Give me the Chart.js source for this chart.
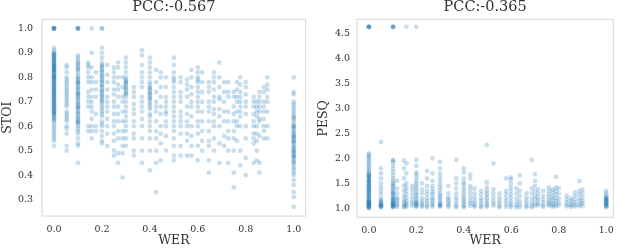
<!DOCTYPE html>
<html>
<head>
<meta charset="utf-8">
<script src="https://cdn.jsdelivr.net/npm/chart.js@4/dist/chart.umd.min.js"></script>
<style>
  html, body { margin: 0; padding: 0; background: #fff; }
  .panel { position: absolute; top: 0; width: 311px; height: 248px; }
</style>
</head>
<body>
<div class="panel" style="left:0"><canvas id="chart-stoi"></canvas></div>
<div class="panel" style="left:311px"><canvas id="chart-pesq"></canvas></div>
<script>
// tick labels
const werTicks  = [0.0, 0.2, 0.4, 0.6, 0.8, 1.0];
const stoiTicks = [0.3, 0.4, 0.5, 0.6, 0.7, 0.8, 0.9, 1.0];
const pesqTicks = [1.0, 1.5, 2.0, 2.5, 3.0, 3.5, 4.0, 4.5];

// WER levels (columns) and STOI values
const stoiWer = [0, 0.053, 0.1, 0.143, 0.157, 0.175, 0.2, 0.222, 0.25, 0.267, 0.286, 0.3,
  0.333, 0.367, 0.4, 0.426, 0.445, 0.467, 0.5, 0.528, 0.555, 0.573, 0.6, 0.618, 0.646,
  0.667, 0.69, 0.71, 0.727, 0.75, 0.763, 0.777, 0.8, 0.833, 0.846, 0.857, 0.875, 0.89, 1.0];
const stoiVals = [
  [1.0,1.0,1.0,1.0,1.0,1.0,0.92,0.91,0.9,0.9,0.895,0.89,0.89,0.885,0.88,0.88,0.875,0.87,0.87,0.865,0.86,0.86,0.855,0.85,0.85,0.85,0.845,0.84,0.84,0.835,0.83,0.83,0.83,0.825,0.82,0.82,0.815,0.81,0.81,0.805,0.8,0.8,0.8,0.795,0.79,0.79,0.785,0.78,0.78,0.775,0.77,0.77,0.765,0.76,0.76,0.755,0.75,0.75,0.745,0.74,0.74,0.735,0.73,0.73,0.725,0.72,0.72,0.715,0.71,0.71,0.705,0.7,0.7,0.695,0.69,0.69,0.685,0.68,0.68,0.675,0.67,0.67,0.665,0.66,0.66,0.655,0.65,0.65,0.645,0.64,0.635,0.63,0.625,0.62,0.61,0.6,0.59,0.58,0.57,0.56,0.55,0.54,0.52],
  [0.85,0.84,0.82,0.8,0.79,0.78,0.77,0.76,0.75,0.74,0.73,0.72,0.71,0.7,0.69,0.68,0.66,0.65,0.64,0.63,0.62,0.6,0.59,0.57,0.52,0.5],
  [1.0,1.0,1.0,1.0,0.89,0.88,0.87,0.86,0.855,0.85,0.84,0.835,0.83,0.82,0.81,0.8,0.795,0.79,0.78,0.78,0.775,0.77,0.76,0.755,0.75,0.74,0.735,0.73,0.73,0.72,0.715,0.71,0.7,0.695,0.69,0.68,0.68,0.675,0.67,0.66,0.655,0.65,0.64,0.635,0.63,0.62,0.62,0.615,0.61,0.6,0.59,0.58,0.57,0.55,0.53,0.52,0.45],
  [0.86,0.85,0.84,0.82,0.8,0.78,0.74,0.72,0.7,0.68,0.6,0.58],
  [1.0,0.9,0.84,0.8,0.78,0.75,0.72,0.7,0.68,0.66,0.63,0.6,0.58,0.55],
  [0.82,0.78,0.75,0.72,0.65,0.6,0.58],
  [1.0,1.0,0.92,0.9,0.88,0.86,0.85,0.845,0.84,0.83,0.825,0.82,0.81,0.805,0.8,0.79,0.785,0.78,0.77,0.765,0.76,0.75,0.745,0.74,0.73,0.725,0.72,0.71,0.705,0.7,0.69,0.68,0.67,0.66,0.65,0.64,0.62,0.61,0.6,0.58,0.56,0.54,0.53],
  [0.85,0.81,0.78,0.75,0.72,0.7,0.68,0.66,0.63,0.6,0.57,0.52],
  [0.84,0.82,0.8,0.78,0.75,0.73,0.7,0.68,0.65,0.62,0.6,0.57,0.54,0.5,0.48],
  [0.86,0.84,0.8,0.77,0.75,0.72,0.68,0.65,0.62,0.58,0.55,0.49,0.45],
  [0.8,0.76,0.72,0.7,0.66,0.62,0.58,0.55,0.52,0.49,0.39],
  [0.88,0.86,0.84,0.82,0.8,0.79,0.785,0.78,0.775,0.77,0.76,0.755,0.75,0.74,0.735,0.73,0.72,0.7,0.68,0.66,0.64,0.62,0.6,0.58,0.55,0.52],
  [0.76,0.74,0.72,0.69,0.67,0.65,0.62,0.6,0.57,0.55,0.5,0.48],
  [0.91,0.89,0.85,0.82,0.8,0.78,0.76,0.72,0.7,0.68,0.66,0.63,0.6,0.55,0.5,0.45],
  [0.88,0.86,0.84,0.82,0.8,0.78,0.77,0.76,0.755,0.75,0.74,0.735,0.73,0.72,0.715,0.71,0.7,0.69,0.68,0.67,0.65,0.64,0.62,0.6,0.58,0.55,0.5,0.42],
  [0.83,0.78,0.74,0.7,0.68,0.66,0.62,0.58,0.55,0.5,0.45,0.33],
  [0.82,0.8,0.76,0.72,0.68,0.65,0.6,0.57,0.53,0.46],
  [0.8,0.76,0.72,0.7,0.68,0.66,0.65,0.62,0.6,0.56,0.5],
  [0.88,0.85,0.82,0.8,0.79,0.78,0.76,0.74,0.72,0.7,0.68,0.66,0.64,0.62,0.6,0.58,0.55,0.52,0.48,0.46],
  [0.8,0.78,0.74,0.72,0.7,0.66,0.64,0.62,0.6,0.57,0.52,0.48],
  [0.79,0.77,0.75,0.72,0.68,0.65,0.62,0.6,0.57,0.54,0.48],
  [0.83,0.8,0.76,0.73,0.7,0.68,0.64,0.6,0.56,0.52,0.48],
  [0.84,0.82,0.8,0.79,0.78,0.76,0.74,0.72,0.7,0.68,0.66,0.62,0.6,0.57,0.52,0.46],
  [0.82,0.78,0.74,0.7,0.66,0.62,0.58,0.54,0.5],
  [0.78,0.76,0.74,0.7,0.68,0.66,0.62,0.58,0.54,0.52,0.46,0.41],
  [0.82,0.8,0.78,0.75,0.72,0.7,0.67,0.65,0.62,0.6,0.55,0.5],
  [0.86,0.8,0.76,0.72,0.71,0.67,0.64,0.6,0.53,0.45],
  [0.78,0.74,0.7,0.66,0.62,0.56,0.52],
  [0.78,0.74,0.72,0.66,0.62,0.58,0.55,0.5,0.45],
  [0.74,0.72,0.68,0.65,0.62,0.58,0.55,0.5,0.41,0.35],
  [0.78,0.75,0.72,0.7,0.66,0.62,0.6,0.54],
  [0.8,0.77,0.74,0.72,0.7,0.68,0.66,0.64,0.6,0.5,0.44],
  [0.78,0.76,0.73,0.7,0.68,0.65,0.6,0.55,0.47,0.4],
  [0.72,0.7,0.68,0.65,0.62,0.6,0.57,0.55,0.53,0.45],
  [0.7,0.68,0.66,0.64,0.6,0.57,0.54,0.5,0.46],
  [0.74,0.72,0.7,0.68,0.66,0.63,0.62,0.56,0.45,0.41],
  [0.76,0.74,0.7,0.68,0.66,0.63,0.6,0.58,0.55],
  [0.8,0.77,0.75,0.72,0.7,0.66,0.6,0.55],
  [0.8,0.74,0.73,0.7,0.69,0.68,0.67,0.66,0.65,0.64,0.635,0.63,0.62,0.61,0.6,0.6,0.595,0.59,0.58,0.575,0.57,0.56,0.56,0.555,0.55,0.54,0.54,0.535,0.53,0.52,0.515,0.51,0.5,0.5,0.495,0.49,0.48,0.48,0.475,0.47,0.46,0.455,0.45,0.44,0.43,0.42,0.41,0.4,0.38,0.36,0.33,0.31,0.27],
];

// WER levels and PESQ values per column
const pesqWer = [0, 0.051, 0.102, 0.119, 0.148, 0.158, 0.183, 0.2, 0.224, 0.245, 0.268, 0.3,
  0.335, 0.368, 0.4, 0.427, 0.445, 0.473, 0.497, 0.525, 0.55, 0.578, 0.598, 0.622, 0.636,
  0.664, 0.686, 0.7, 0.713, 0.734, 0.758, 0.774, 0.788, 0.8, 0.834, 0.852, 0.868, 0.887, 0.9, 1.0];
const pesqVals = [
  [4.64,4.64,4.64,4.64,4.64,2.1,2.07,2.03,2.0,1.96,1.92,1.88,1.84,1.8,1.76,1.73,1.7,1.68,1.66,1.64,1.62,1.6,1.58,1.56,1.54,1.52,1.5,1.48,1.46,1.44,1.42,1.4,1.38,1.36,1.34,1.32,1.3,1.28,1.26,1.24,1.22,1.2,1.18,1.16,1.14,1.12,1.1,1.08,1.06,1.04,1.02,1.0,1.15,1.13,1.11,1.09,1.07,1.05,1.03,1.01,1.25,1.35,1.45,1.55,1.65],
  [2.33,1.8,1.7,1.6,1.5,1.42,1.35,1.28,1.2,1.16,1.14,1.12,1.1,1.08,1.06,1.04,1.02,1.03,1.05,1.07],
  [4.64,4.64,4.64,4.64,1.97,1.95,1.92,1.85,1.78,1.72,1.66,1.6,1.55,1.5,1.48,1.45,1.42,1.38,1.35,1.32,1.3,1.28,1.25,1.22,1.2,1.18,1.15,1.12,1.1,1.08,1.06,1.04,1.02,1.03,1.05,1.07,1.09,1.13,1.17],
  [1.55,1.4,1.3,1.22,1.18,1.14,1.1,1.06,1.03],
  [1.96,1.8,1.6,1.45,1.35,1.25,1.18,1.12,1.08,1.04,1.02],
  [4.64,1.9,1.7,1.5,1.42,1.35,1.28,1.2,1.14,1.1,1.06,1.03],
  [1.45,1.38,1.3,1.22,1.15,1.1,1.05],
  [4.64,1.97,1.85,1.72,1.68,1.62,1.55,1.5,1.45,1.4,1.35,1.3,1.26,1.22,1.18,1.14,1.1,1.06,1.03,1.05,1.08,1.12],
  [1.5,1.38,1.3,1.2,1.14,1.1,1.06,1.03],
  [1.75,1.6,1.45,1.35,1.28,1.2,1.15,1.1,1.05,1.02],
  [2.0,1.7,1.55,1.45,1.38,1.32,1.28,1.22,1.18,1.14,1.1,1.06,1.03],
  [1.93,1.8,1.7,1.62,1.55,1.48,1.42,1.36,1.3,1.26,1.22,1.18,1.14,1.1,1.06,1.03,1.05,1.08],
  [1.45,1.3,1.22,1.18,1.14,1.1,1.06,1.03],
  [1.97,1.6,1.5,1.4,1.3,1.22,1.16,1.1,1.05,1.02],
  [1.8,1.72,1.6,1.52,1.48,1.42,1.36,1.3,1.25,1.2,1.16,1.12,1.08,1.04,1.02],
  [1.68,1.6,1.45,1.38,1.3,1.22,1.15,1.1,1.05],
  [1.4,1.3,1.22,1.15,1.1,1.06,1.03],
  [1.35,1.28,1.2,1.15,1.1,1.05,1.02],
  [2.27,1.52,1.42,1.35,1.3,1.25,1.2,1.15,1.1,1.06,1.03],
  [1.9,1.38,1.3,1.22,1.15,1.1,1.05],
  [1.3,1.22,1.15,1.1,1.05,1.02],
  [1.6,1.35,1.28,1.2,1.14,1.08,1.03],
  [1.62,1.58,1.5,1.42,1.35,1.28,1.22,1.15,1.1,1.06,1.02],
  [1.4,1.3,1.2,1.12,1.06,1.02],
  [1.66,1.5,1.35,1.25,1.15,1.08,1.03],
  [1.3,1.22,1.16,1.1,1.05,1.02],
  [1.97,1.4,1.3,1.2,1.12,1.06,1.02],
  [1.68,1.55,1.45,1.35,1.25,1.18,1.1,1.05],
  [1.38,1.3,1.22,1.16,1.1,1.06],
  [1.35,1.25,1.18,1.12,1.06,1.03],
  [1.42,1.35,1.28,1.22,1.16,1.12,1.08,1.05],
  [1.38,1.32,1.25,1.2,1.15,1.1,1.06,1.03],
  [1.63,1.42,1.35,1.28,1.2,1.14,1.08,1.04],
  [1.4,1.3,1.2,1.12,1.06],
  [1.25,1.18,1.12,1.07,1.04],
  [1.2,1.15,1.1,1.06,1.03],
  [1.32,1.25,1.18,1.12,1.07,1.04],
  [1.55,1.35,1.28,1.2,1.14,1.08,1.04],
  [1.38,1.3,1.22,1.15,1.1,1.05],
  [1.35,1.3,1.26,1.22,1.2,1.18,1.16,1.14,1.12,1.1,1.08,1.06,1.04,1.02,1.05,1.09,1.13,1.17,1.21],
];

const FONT = "'DejaVu Serif', serif";
const TEXT = "#333333";

// light grey box round the plot area, like the seaborn frame
const framePlugin = {
  id: "frame",
  beforeDraw(chart) {
    const { ctx, chartArea: a } = chart;
    ctx.save();
    ctx.strokeStyle = "#d6d6d6";
    ctx.lineWidth = 1;
    ctx.strokeRect(a.left, a.top, a.right - a.left, a.bottom - a.top);
    ctx.restore();
  },
};

function toPoints(wer, vals) {
  return wer.flatMap((w, i) => vals[i].map(v => ({ x: w, y: v })));
}

function makeScatter(id, cfg) {
  new Chart(document.getElementById(id), {
    type: "scatter",
    data: {
      datasets: [{
        data: toPoints(cfg.wer, cfg.vals),
        pointRadius: 2.4,
        pointBorderWidth: 0,
        pointBackgroundColor: "rgba(31,119,180,0.24)",
      }],
    },
    plugins: [framePlugin],
    options: {
      animation: false,
      events: [],
      responsive: true,
      maintainAspectRatio: false,
      layout: { padding: { left: 0, right: 5.3, top: 0, bottom: 0 } },
      plugins: {
        legend: { display: false },
        tooltip: { enabled: false },
        title: {
          display: true,
          text: cfg.title,
          fullSize: false,
          color: TEXT,
          font: { family: FONT, size: 14.5, weight: "normal", lineHeight: 1.05 },
          padding: { top: 0, bottom: 4.1 },
        },
      },
      scales: {
        x: {
          type: "linear",
          min: -0.05,
          max: cfg.xMax,
          grid: { display: false, drawTicks: false },
          border: { display: false },
          afterBuildTicks: s => { s.ticks = werTicks.map(v => ({ value: v })); },
          afterFit: s => { s.height = cfg.xHeight; },
          ticks: { color: TEXT, padding: 8, font: { family: FONT, size: 9.5 }, callback: v => v.toFixed(1) },
          title: { display: true, text: "WER", color: TEXT, padding: 0, font: { family: FONT, size: 12.5 } },
        },
        y: {
          min: cfg.yMin,
          max: cfg.yMax,
          grid: { display: false, drawTicks: false },
          border: { display: false },
          afterBuildTicks: s => { s.ticks = cfg.yTicks.map(v => ({ value: v })); },
          afterFit: s => { s.width = cfg.yWidth; },
          ticks: { color: TEXT, padding: cfg.yPad, font: { family: FONT, size: 9.5 }, callback: v => v.toFixed(1) },
          title: { display: true, text: cfg.yLabel, color: TEXT, padding: { top: cfg.yTitlePad, bottom: 0 }, font: { family: FONT, size: 12.5 } },
        },
      },
    },
  });
}

makeScatter("chart-stoi", {
  title: "PCC:-0.567", yLabel: "STOI", wer: stoiWer, vals: stoiVals, yTicks: stoiTicks,
  yMin: 0.233, yMax: 1.037, xMax: 1.05, yWidth: 42, yPad: 9, yTitlePad: 0, xHeight: 32,
});
makeScatter("chart-pesq", {
  title: "PCC:-0.365", yLabel: "PESQ", wer: pesqWer, vals: pesqVals, yTicks: pesqTicks,
  yMin: 0.82, yMax: 4.79, xMax: 1.03, yWidth: 46, yPad: 7, yTitlePad: 5, xHeight: 30.7,
});
</script>
</body>
</html>
